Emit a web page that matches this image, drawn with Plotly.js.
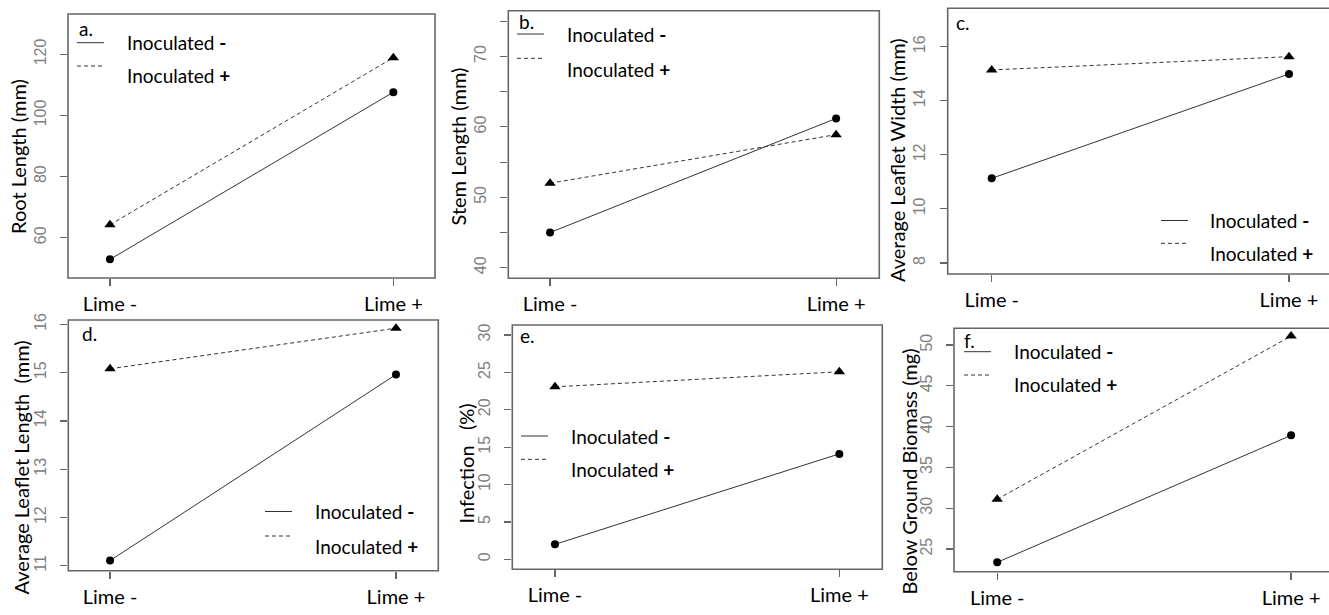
<!DOCTYPE html>
<html>
<head>
<meta charset="utf-8">
<script src="https://cdn.plot.ly/plotly-3.0.1.min.js"></script>
<style>
  html, body { margin: 0; padding: 0; background: #fff; }
  #chart { width: 1329px; height: 615px; }
</style>
</head>
<body>
<div id="chart"></div>
<script>
// Treatment levels on the x axis
const limeLevels = ['Lime -', 'Lime +'];
const limePos = [1, 2];
const seriesNames = ['Inoculated <b>-</b>', 'Inoculated <b>+</b>'];

// a. Root length (mm)
const rootMinus = [52.9, 107.6];
const rootPlus = [64.2, 118.9];
const rootTicks = [60, 80, 100, 120];
const rootTickText = ['60', '80', '100', '120'];

// b. Stem length (mm)
const stemMinus = [45.0, 61.2];
const stemPlus = [52.0, 58.9];
const stemTicks = [40, 45, 50, 55, 60, 65, 70, 75];
const stemTickText = ['40', '', '50', '', '60', '', '70', ''];

// c. Average leaflet width (mm)
const widthMinus = [11.13, 14.99];
const widthPlus = [15.14, 15.63];
const widthTicks = [8, 10, 12, 14, 16];
const widthTickText = ['8', '10', '12', '14', '16'];

// d. Average leaflet length (mm)
const lengthMinus = [11.11, 14.96];
const lengthPlus = [15.08, 15.92];
const lengthTicks = [11, 12, 13, 14, 15, 16];
const lengthTickText = ['11', '12', '13', '14', '15', '16'];

// e. Infection (%)
const infectionMinus = [2.0, 14.1];
const infectionPlus = [23.07, 25.08];
const infectionTicks = [0, 5, 10, 15, 20, 25, 30];
const infectionTickText = ['0', '5', '10', '15', '20', '25', '30'];

// f. Below ground biomass (mg)
const biomassMinus = [23.37, 38.93];
const biomassPlus = [31.1, 51.1];
const biomassTicks = [25, 30, 35, 40, 45, 50];
const biomassTickText = ['25', '30', '35', '40', '45', '50'];

const W = 1329, H = 615;
const px = v => v / W;
const py = v => 1 - v / H;

const FONT = 'Lato, "Open Sans", sans-serif';
const LINE = '#333';
const FRAME = '#666';

// Panel layout: frame [left, right, top, bottom] in pixels, axis ranges, label spots
const panels = [
  { letter: 'a.', title: 'Root Length (mm)', minus: rootMinus, plus: rootPlus,
    ticks: rootTicks, tickText: rootTickText,
    frame: [68, 435, 14, 278], xr: [0.852, 2.147], yr: [46.8, 133.2],
    titleAt: [18, 157], letterAt: [77, 28],
    legend: { x: 77, tx: 125, y1: 42.7, y2: 66, ty2: 76 } },
  { letter: 'b.', title: 'Stem Length (mm)', minus: stemMinus, plus: stemPlus,
    ticks: stemTicks, tickText: stemTickText,
    frame: [508.3, 879.3, 10.7, 278.3], xr: [0.854, 2.151], yr: [38.5, 76.5],
    titleAt: [457, 146.5], letterAt: [517, 22],
    legend: { x: 517, tx: 565, y1: 34, y2: 58.3, ty2: 69 } },
  { letter: 'c.', title: 'Average Leaflet Width (mm)', minus: widthMinus, plus: widthPlus,
    ticks: widthTicks, tickText: widthTickText,
    frame: [947.7, 1333, 8.3, 274], xr: [0.852, 2.1345], yr: [7.59, 17.42],
    titleAt: [897, 160], letterAt: [954, 23],
    legend: { x: 1161, tx: 1208, y1: 220.5, y2: 243.3, ty2: 253.3 } },
  { letter: 'd.', title: 'Average Leaflet Length\u00a0\u00a0(mm)', minus: lengthMinus, plus: lengthPlus,
    ticks: lengthTicks, tickText: lengthTickText,
    frame: [68.3, 438.3, 320, 570.7], xr: [0.854, 2.148], yr: [10.90, 16.09],
    titleAt: [20, 467.5], letterAt: [80, 333],
    legend: { x: 265, tx: 312.7, y1: 511.5, y2: 536, ty2: 546.7 } },
  { letter: 'e.', title: 'Infection\u00a0\u00a0\u00a0(%)', minus: infectionMinus, plus: infectionPlus,
    ticks: infectionTicks, tickText: infectionTickText,
    frame: [512.3, 882.3, 325, 569.3], xr: [0.85, 2.151], yr: [-1.34, 31.34],
    titleAt: [465, 463.5], letterAt: [518, 335],
    legend: { x: 521, tx: 569, y1: 436, y2: 459.3, ty2: 469.3 } },
  { letter: 'f.', title: 'Below Ground Biomass (mg)', minus: biomassMinus, plus: biomassPlus,
    ticks: biomassTicks, tickText: biomassTickText,
    frame: [954, 1334, 328.3, 571.7], xr: [0.853, 2.129], yr: [22.22, 52.05],
    titleAt: [908, 471.5], letterAt: [962, 340],
    legend: { x: 964, tx: 1011.7, y1: 351.7, y2: 375, ty2: 384.3 } }
];

const traces = [];
const layout = {
  width: W, height: H,
  margin: { l: 0, r: 0, t: 0, b: 0 },
  paper_bgcolor: '#fff', plot_bgcolor: '#fff',
  showlegend: false,
  font: { family: FONT, color: '#000' },
  shapes: [], annotations: []
};

panels.forEach((p, i) => {
  const n = i + 1;
  const xa = n === 1 ? 'x' : 'x' + n;
  const ya = n === 1 ? 'y' : 'y' + n;
  const [L, R, T, B] = p.frame;

  traces.push({
    x: limePos, y: p.minus, xaxis: xa, yaxis: ya, name: seriesNames[0],
    mode: 'lines+markers', cliponaxis: false,
    line: { color: LINE, width: 1 },
    marker: { symbol: 'circle', size: 8, color: '#000' }
  });
  traces.push({
    x: limePos, y: p.plus, xaxis: xa, yaxis: ya, name: seriesNames[1],
    mode: 'lines+markers', cliponaxis: false,
    line: { color: LINE, width: 1, dash: '4px,3px' },
    marker: { symbol: 'triangle-up', size: 10, color: '#000' }
  });

  const axisBase = {
    showgrid: false, zeroline: false, showline: false,
    ticks: 'outside', ticklen: 7, tickwidth: 1.2, tickcolor: FRAME,
    fixedrange: true
  };
  layout['xaxis' + (n === 1 ? '' : n)] = Object.assign({}, axisBase, {
    domain: [px(L), Math.min(1, px(R))], range: p.xr, anchor: ya,
    tickmode: 'array', tickvals: limePos, ticktext: limeLevels,
    tickfont: { family: FONT, size: 20, color: '#000' },
    ticklabelstandoff: 1
  });
  layout['yaxis' + (n === 1 ? '' : n)] = Object.assign({}, axisBase, {
    domain: [py(B), py(T)], range: p.yr, anchor: xa,
    tickmode: 'array', tickvals: p.ticks, ticktext: p.tickText,
    tickangle: -90,
    tickfont: { family: '"Liberation Sans", Arial, sans-serif', size: 16, color: '#808080' },
    ticklabelstandoff: 8
  });

  // panel frame
  layout.shapes.push({
    type: 'rect', xref: 'paper', yref: 'paper',
    x0: px(L), x1: px(R), y0: py(B), y1: py(T),
    line: { color: FRAME, width: 1.6 }, fillcolor: 'rgba(0,0,0,0)'
  });

  // legend samples
  const lg = p.legend;
  layout.shapes.push({
    type: 'line', xref: 'paper', yref: 'paper',
    x0: px(lg.x), x1: px(lg.x + 27), y0: py(lg.y1), y1: py(lg.y1),
    line: { color: LINE, width: 1 }
  });
  layout.shapes.push({
    type: 'line', xref: 'paper', yref: 'paper',
    x0: px(lg.x), x1: px(lg.x + 27), y0: py(lg.y2), y1: py(lg.y2),
    line: { color: LINE, width: 1, dash: '4px,3px' }
  });
  layout.annotations.push({
    xref: 'paper', yref: 'paper', x: px(lg.tx), y: py(lg.y1),
    xanchor: 'left', yanchor: 'middle', showarrow: false,
    text: seriesNames[0], font: { family: FONT, size: 19, color: '#000' }
  });
  layout.annotations.push({
    xref: 'paper', yref: 'paper', x: px(lg.tx), y: py(lg.ty2),
    xanchor: 'left', yanchor: 'middle', showarrow: false,
    text: seriesNames[1], font: { family: FONT, size: 19, color: '#000' }
  });

  // panel letter
  layout.annotations.push({
    xref: 'paper', yref: 'paper', x: px(p.letterAt[0]), y: py(p.letterAt[1]),
    xanchor: 'left', yanchor: 'middle', showarrow: false,
    text: p.letter, font: { family: FONT, size: 19, color: '#000' }
  });

  // y axis title
  layout.annotations.push({
    xref: 'paper', yref: 'paper', x: px(p.titleAt[0]), y: py(p.titleAt[1]),
    xanchor: 'center', yanchor: 'middle', showarrow: false, textangle: -90,
    text: p.title, font: { family: FONT, size: 20, color: '#000' }
  });
});

Plotly.newPlot('chart', traces, layout, { displayModeBar: false, staticPlot: true });
</script>
</body>
</html>
